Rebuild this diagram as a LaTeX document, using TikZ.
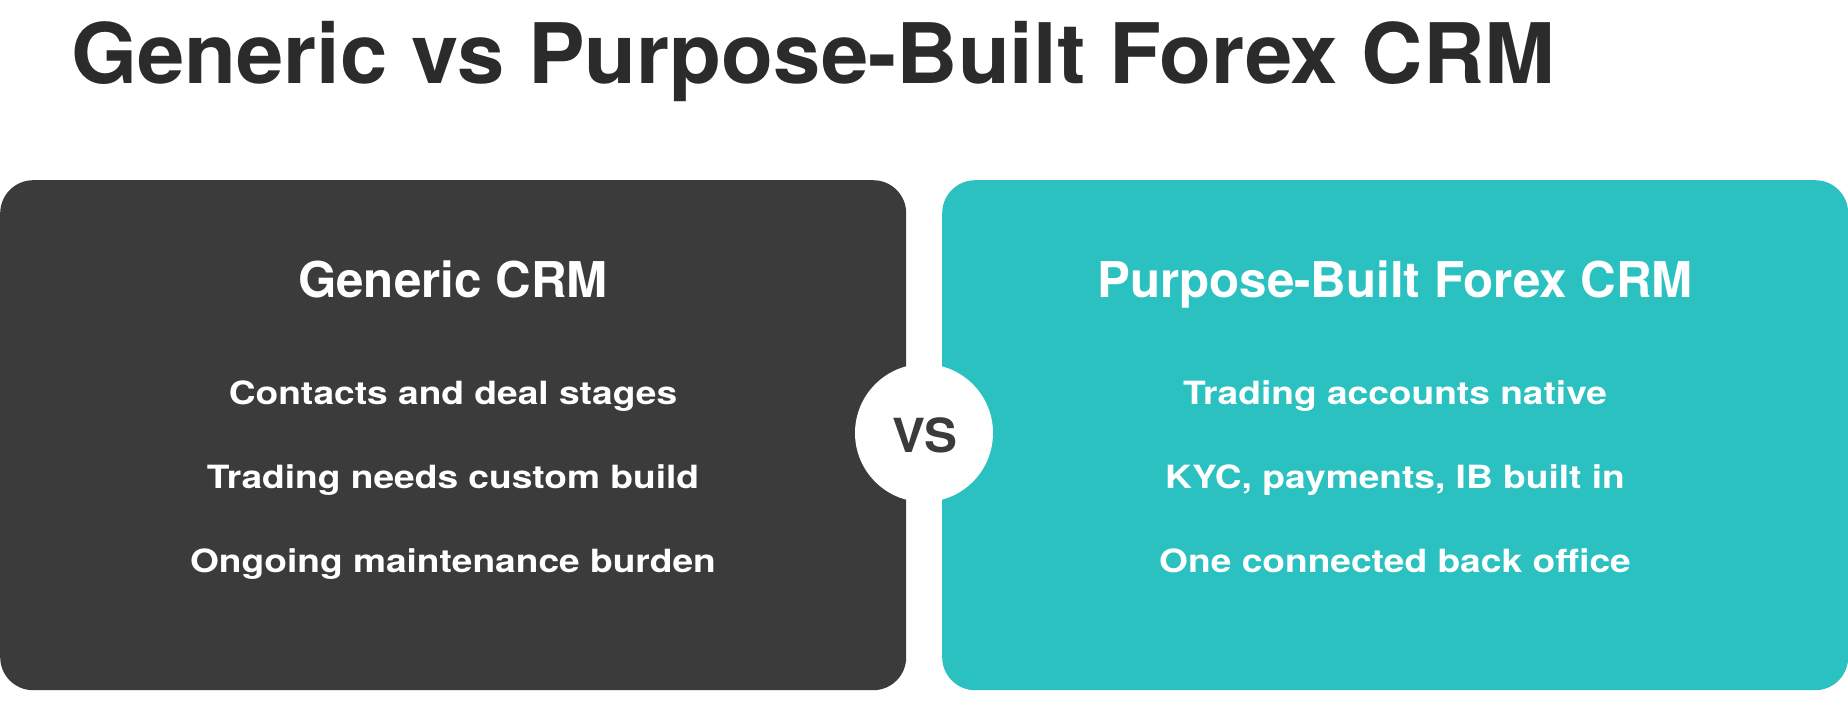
\documentclass[tikz,border=0pt]{standalone}
\usepackage{fontspec}
\setmainfont{TeX Gyre Heros}
\definecolor{darkbox}{HTML}{3B3B3B}
\definecolor{tealbox}{HTML}{2BC1C1}
\definecolor{titlecol}{HTML}{2B2B2B}
\newcommand{\widetext}[2]{\scalebox{#1}[1]{#2}}
\tikzset{
  panel/.style={rounded corners=33pt, inner sep=0pt, minimum height=510pt, anchor=north west},
  heading/.style={anchor=base, text=white, inner sep=0pt, font=\fontsize{49.3}{56}\selectfont\bfseries},
  item/.style={anchor=base, text=white, inner sep=0pt, font=\fontsize{32}{38}\selectfont\bfseries},
}
\begin{document}
\begin{tikzpicture}[x=1pt,y=-1pt]
\useasboundingbox (0,0) rectangle (1848,713);
\node[anchor=base west, inner sep=0pt, text=titlecol, font=\fontsize{83.5}{90}\selectfont\bfseries] (title) at (71,83) {\widetext{1.018}{Generic vs Purpose-Built Forex CRM}};
\node[panel, fill=darkbox, minimum width=906pt] (left) at (0,180) {};
\node[panel, fill=tealbox, minimum width=906pt] (right) at (942,180) {};
\node[circle, fill=white, minimum size=138pt, inner sep=0pt] (vscircle) at (924,433) {};
\node[anchor=base, inner sep=0pt, text=darkbox, font=\fontsize{47}{52}\selectfont\bfseries] (vs) at (925,452) {\widetext{1.05}{VS}};
\node[heading] (lh) at (453,297) {Generic CRM};
\node[heading] (rh) at (1395,297) {Purpose-Built Forex CRM};
\node[item] (l1) at (453,404) {\widetext{1.16}{Contacts and deal stages}};
\node[item] (l2) at (453,488) {\widetext{1.16}{Trading needs custom build}};
\node[item] (l3) at (453,572) {\widetext{1.16}{Ongoing maintenance burden}};
\node[item] (r1) at (1395,404) {\widetext{1.16}{Trading accounts native}};
\node[item] (r2) at (1395,488) {\widetext{1.16}{KYC, payments, IB built in}};
\node[item] (r3) at (1395,572) {\widetext{1.16}{One connected back office}};
\end{tikzpicture}
\end{document}
